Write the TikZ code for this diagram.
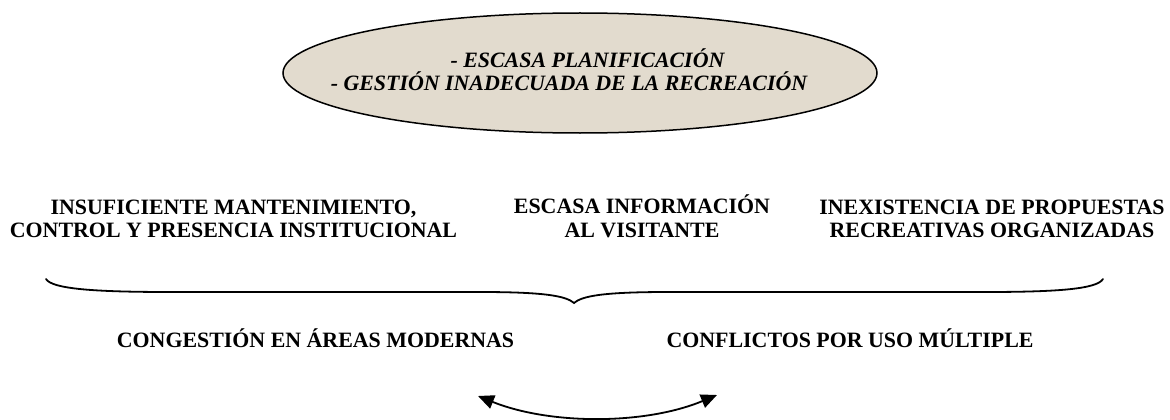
\documentclass[tikz,border=0pt]{standalone}
\usepackage{fontspec}
\setmainfont{Liberation Serif}
\usetikzlibrary{shapes.geometric,arrows.meta}
\definecolor{ellfill}{RGB}{226,219,206}
\begin{document}
\begin{tikzpicture}[x=1pt,y=-1pt,
  lbl/.style={font=\fontsize{21.9}{23.5}\selectfont\bfseries, inner sep=0pt, align=center},
  etxt/.style={font=\fontsize{21.9}{22.7}\selectfont\bfseries\itshape, inner sep=0pt, align=center},
  goalshape/.style={ellipse, draw, line width=1.5pt, fill=ellfill, minimum width=594pt, minimum height=120pt, inner sep=0pt},
  bracestyle/.style={line width=1.8pt, line cap=round},
  dblarrow/.style={line width=1.8pt, {Triangle[length=16pt,width=14pt]}-{Triangle[length=16pt,width=14pt]}}]
\useasboundingbox (0,0) rectangle (1170,420);
\node[goalshape] (ell) at (580,73) {};
\node[etxt] (goal) at (569,69.6) {\hspace*{37pt}- ESCASA PLANIFICACIÓN\\- GESTIÓN INADECUADA DE LA RECREACIÓN};
\node[lbl] (c1) at (233.5,219) {INSUFICIENTE MANTENIMIENTO,\\CONTROL Y PRESENCIA INSTITUCIONAL};
\node[lbl] (c2) at (642,216.5) {ESCASA INFORMACIÓN\\AL VISITANTE};
\node[lbl] (c3) at (992,219) {INEXISTENCIA DE PROPUESTAS\\RECREATIVAS ORGANIZADAS};
\node[lbl, anchor=base] (e1) at (315.5,347) {CONGESTIÓN EN ÁREAS MODERNAS};
\node[lbl, anchor=base] (e2) at (850,347) {CONFLICTOS POR USO MÚLTIPLE};
\coordinate (bl) at (46,279);
\coordinate (btip) at (574,303);
\coordinate (br) at (1103,279);
\draw[bracestyle] (bl) .. controls (52,289) and (95,292) .. (170,292) -- (480,292) .. controls (545,292) and (566,296) .. (btip) .. controls (582,296) and (603,292) .. (668,292) -- (985,292) .. controls (1058,292) and (1097,289) .. (br);
\coordinate (aL) at (478,396);
\coordinate (aR) at (717,395);
\draw[dblarrow] (aL) .. controls (550,425) and (645,425) .. (aR);
\end{tikzpicture}
\end{document}
